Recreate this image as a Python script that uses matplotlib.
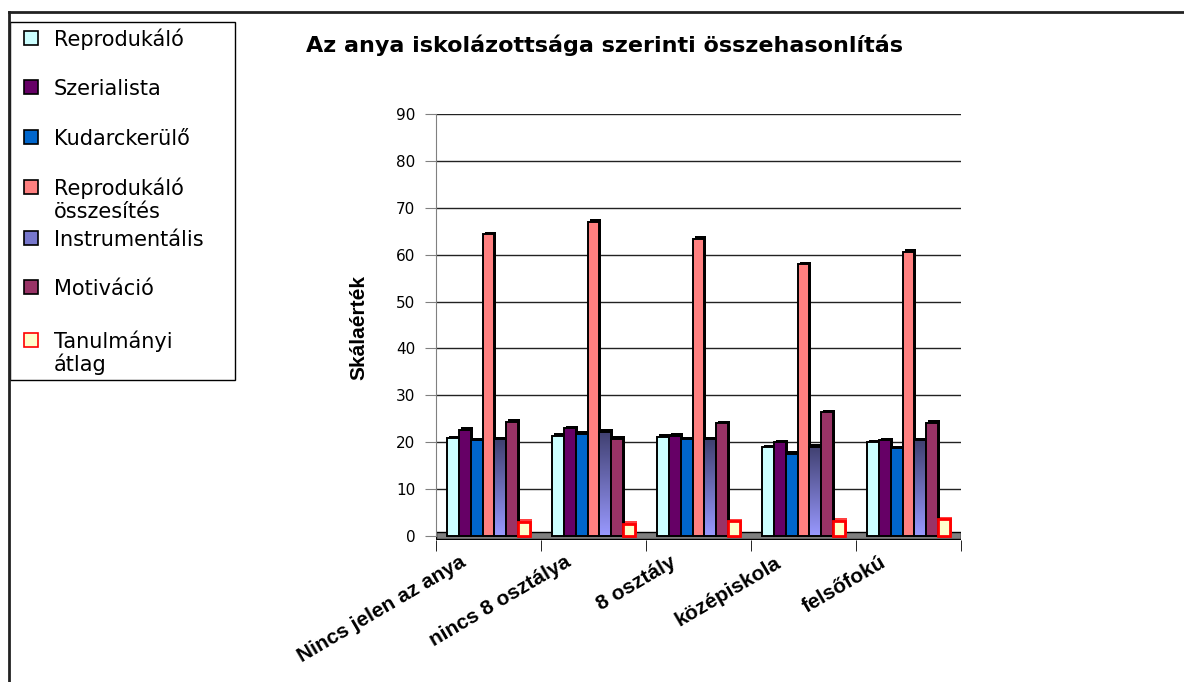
import numpy as np
import matplotlib
matplotlib.use("Agg")
import matplotlib.pyplot as plt
from matplotlib.patches import Rectangle
from matplotlib.lines import Line2D
from matplotlib.transforms import ScaledTranslation

plt.rcParams["font.family"] = ["DejaVu Sans"]
ARIAL = ["Liberation Sans", "DejaVu Sans"]

# data
categories = ["Nincs jelen az anya", "nincs 8 osztálya", "8 osztály",
              "középiskola", "felsőfokú"]
series_names = ["Reprodukáló", "Szerialista", "Kudarckerülő",
                "Reprodukáló\nösszesítés", "Instrumentális", "Motiváció",
                "Tanulmányi\nátlag"]
reprodukalo = [20.8, 21.4, 21.2, 18.9, 20.0]
szerialista = [22.7, 23.0, 21.4, 20.0, 20.4]
kudarckerulo = [20.4, 21.8, 20.6, 17.5, 18.7]
repr_osszesites = [64.4, 67.0, 63.4, 58.0, 60.6]
instrumentalis = [20.6, 22.2, 20.6, 19.0, 20.4]
motivacio = [24.4, 20.7, 24.0, 26.4, 24.2]
tanulmanyi = [3.0, 2.6, 3.1, 3.3, 3.6]

series = [reprodukalo, szerialista, kudarckerulo, repr_osszesites,
          instrumentalis, motivacio, tanulmanyi]
faces = ["#CCFFFF", "#660066", "#0066CC", "#FF8080", "none", "#993366", "#FFFFCC"]
edges = ["black"] * 6 + ["#FF0000"]

W, H = 1184, 682
fig = plt.figure(figsize=(W / 100, H / 100), dpi=100)

y_lo, y_hi = -0.9, 90
px_per_unit = (536 - 114) / 90
ax_left, ax_right = 436, 961
ax_top = 114
ax_bottom = 536 + (0 - y_lo) * px_per_unit
ax = fig.add_axes([ax_left / W, 1 - ax_bottom / H,
                   (ax_right - ax_left) / W, (ax_bottom - ax_top) / H])

x = np.arange(len(categories))
n = len(series)
bw = 0.114
ax.set_xlim(-0.5, len(categories) - 0.5)
ax.set_ylim(y_lo, y_hi)
px_x = (ax_right - ax_left) / len(categories)

# gridlines
for yv in range(0, 100, 10):
    ax.axhline(yv, color="#222222", lw=1.0, zorder=1)

# floor
ax.add_patch(Rectangle((-0.5, -0.7), len(categories), 1.5,
                       facecolor="#808080", edgecolor="black", lw=1, zorder=1.5))

# fake depth: dark block sitting slightly behind/above each bar
dx, dy = 2 / px_x, 2.5 / px_per_unit
cmap = matplotlib.colors.LinearSegmentedColormap.from_list("instr", ["#9999FF", "#404070"])
for i, (vals, fc, ec) in enumerate(zip(series, faces, edges)):
    xs = x + (i - (n - 1) / 2) * bw
    back = "#FF4040" if ec != "black" else "black"
    ax.bar(xs + dx, np.array(vals) + dy, bw, color=back, zorder=2.2 + i * 0.01)
    lw = 2.0 if ec != "black" else 1.4
    bars = ax.bar(xs, vals, bw, facecolor=fc, edgecolor=ec, lw=lw, zorder=3 + i * 0.01)
    if fc == "none":
        grad = np.linspace(0, 1, 256).reshape(-1, 1)
        for b in bars:
            im = ax.imshow(grad, cmap=cmap, aspect="auto", origin="lower",
                           extent=[b.get_x(), b.get_x() + b.get_width(), 0, b.get_height()],
                           zorder=2.9 + i * 0.01)
            im.set_clip_path(b)

# axes styling
for s in ["top", "right", "bottom"]:
    ax.spines[s].set_visible(False)
ax.spines["left"].set_color("#808080")
ax.spines["left"].set_bounds(0, 90)
ax.set_yticks(range(0, 100, 10))
ax.tick_params(axis="y", length=8, color="#808080", labelsize=11, pad=7)
ax.set_xticks(x)
ax.set_xticklabels(categories, rotation=30.5, ha="right", va="top",
                   rotation_mode="anchor", fontsize=15, fontweight="bold", family=ARIAL)
ax.tick_params(axis="x", length=0, pad=9)
for lab in ax.get_xticklabels():
    lab.set_transform(lab.get_transform() + ScaledTranslation(-29 / 100, 0, fig.dpi_scale_trans))
ax.set_xticks(np.arange(-0.5, len(categories), 1), minor=True)
ax.tick_params(axis="x", which="minor", length=8, color="black")
ax.set_ylabel("Skálaérték", fontsize=15, fontweight="bold", labelpad=20, family=ARIAL)

# title
fig.text(605 / W, 1 - 52 / H, "Az anya iskolázottsága szerinti összehasonlítás",
         ha="center", va="baseline", fontsize=16, fontweight="bold")

# outer border (top and left only visible)
fig.add_artist(Line2D([9 / W, 1], [1 - 11.5 / H] * 2, color="#222222", lw=2))
fig.add_artist(Line2D([9 / W] * 2, [0, 1 - 11.5 / H], color="#222222", lw=2))

# legend box, drawn by hand to keep Excel's spacing
fig.add_artist(Rectangle((10 / W, 1 - 380 / H), 225 / W, 358 / H,
                         transform=fig.transFigure, facecolor="white",
                         edgecolor="black", lw=1))
rows = [38, 87, 137, 187, 238, 287, 340]
leg_faces = ["#CCFFFF", "#660066", "#0066CC", "#FF8080", "#7777CC", "#993366", "#FFFFCC"]
for name, fc, ec, yr in zip(series_names, leg_faces, edges, rows):
    fig.add_artist(Rectangle((24 / W, 1 - (yr + 7) / H), 14 / W, 14 / H,
                             transform=fig.transFigure, facecolor=fc,
                             edgecolor=ec, lw=1.2))
    for k, line in enumerate(name.split("\n")):
        fig.text(54 / W, 1 - (yr + 8 + 23 * k) / H, line, ha="left",
                 va="baseline", fontsize=15)

fig.savefig("out.png", dpi=100)
